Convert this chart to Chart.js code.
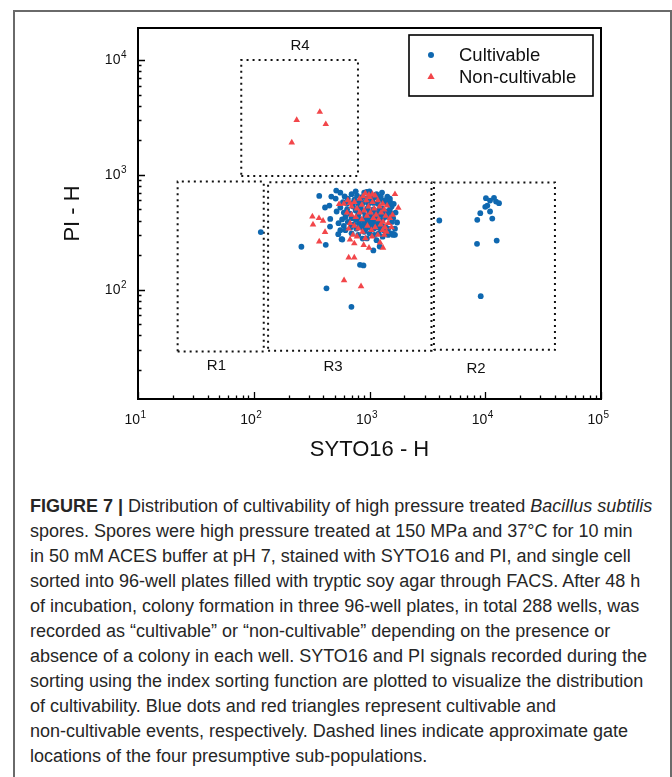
<!DOCTYPE html>
<html>
<head>
<meta charset="utf-8">
<script src="https://cdn.jsdelivr.net/npm/chart.js@4.4.1/dist/chart.umd.min.js"></script>
<style>
  html, body { margin: 0; padding: 0; background: #fff; }
  body { width: 672px; height: 777px; position: relative; overflow: hidden; font-family: "Liberation Sans", Arial, sans-serif; }
  #frame { position: absolute; left: 13px; top: 10px; width: 655px; height: 820px; border: 2px solid #6a6a6a; }
  #wrap { position: absolute; left: 0; top: 0; width: 672px; height: 480px; }
  #caption { position: absolute; left: 30px; top: 494px; font-size: 18px; line-height: 25px; color: #262626; white-space: nowrap; }
  #caption b { font-weight: bold; }
</style>
</head>
<body>
<div id="frame"></div>
<div id="wrap"><canvas id="chart" width="672" height="480"></canvas></div>
<div id="caption">
<b>FIGURE 7 |</b> Distribution of cultivability of high pressure treated <i>Bacillus subtilis</i><br>
spores. Spores were high pressure treated at 150 MPa and 37°C for 10 min<br>
in 50 mM ACES buffer at pH 7, stained with SYTO16 and PI, and single cell<br>
sorted into 96-well plates filled with tryptic soy agar through FACS. After 48 h<br>
of incubation, colony formation in three 96-well plates, in total 288 wells, was<br>
recorded as “cultivable” or “non-cultivable” depending on the presence or<br>
absence of a colony in each well. SYTO16 and PI signals recorded during the<br>
sorting using the index sorting function are plotted to visualize the distribution<br>
of cultivability. Blue dots and red triangles represent cultivable and<br>
non-cultivable events, respectively. Dashed lines indicate approximate gate<br>
locations of the four presumptive sub-populations.
</div>
<script>
// axis ticks (log scales)
const xTickVals = [10, 100, 1000, 10000, 100000];
const yTickVals = [100, 1000, 10000];

// SYTO16 - H / PI - H pairs
const cultivable = [
  [115,318],[258,237],[419,246],[425,103],[698,71],[828,165],[887,163],[1080,220],[574,276],[4010,401],
  [10140,627],[11000,598],[11900,631],[12400,586],[13150,567],[10000,527],[10420,541],[9060,464],
  [11000,480],[8530,406],[11500,417],[8490,251],[12560,268],[9140,88],
  [368,656],[516,730],[468,647],[510,622],[413,520],[450,541],[458,414],[456,355],[537,305],[582,274],
  [946,711],[1730,385],[873,279],[1224,238],[1607,307],[1660,301],[1283,701],[1426,647],[1503,586],[1554,530],
  [560,700],[610,650],[650,620],[700,680],[740,610],[780,660],[820,590],[860,640],[900,700],[950,620],
  [1000,660],[1050,600],[1100,640],[1150,680],[1200,620],[1250,650],[1300,600],[1350,580],[1180,560],[1080,570],
  [980,560],[880,570],[800,560],[720,570],[640,560],[590,580],[1400,610],[1450,560],[1000,720],[760,720],
  [520,480],[560,520],[600,470],[640,500],[680,460],[720,530],[760,490],[800,450],[840,520],[880,480],
  [920,440],[960,510],[1000,470],[1040,430],[1080,500],[1120,460],[1160,420],[1200,490],[1240,450],[1280,510],
  [1320,470],[1360,430],[1400,480],[1450,440],[1500,500],[1550,460],[1600,420],[700,420],[760,410],[840,410],
  [900,400],[980,420],[1050,410],[1130,400],[1220,400],[1300,410],[620,430],[580,410],
  [540,380],[600,360],[650,390],[690,350],[730,370],[770,340],[810,380],[850,350],[890,370],[930,340],
  [970,380],[1010,350],[1050,370],[1090,340],[1130,380],[1170,350],[1210,370],[1250,340],[1290,360],[1330,330],
  [1380,350],[1450,340],[1520,310],[1600,300],[1450,300],[700,310],[800,300],[900,320],[1000,310],[1100,300],
  [1200,310],[1300,290],[950,280],[1150,270],[620,330],[560,330],
  [1620,560],[1680,470],[1560,390],[1660,340],[1500,620]
];
const nonCultivable = [
  [372,3530],[235,3006],[419,2762],[213,1910],
  [603,121],[845,107],[661,191],[739,191],[368,263],[321,434],[325,370],[366,420],[397,398],[413,318],
  [546,556],[1660,679],[1774,516],[1341,301],[1233,258],[1309,232],[891,245],[990,232],[679,274],[739,253],
  [990,670],[1060,680],[679,568],
  [600,560],[650,600],[700,530],[740,580],[780,510],[820,620],[860,550],[900,490],[940,600],[980,530],
  [1020,470],[1060,580],[1100,510],[1140,450],[1180,600],[1220,530],[1260,470],[1300,560],[1340,500],[1380,440],
  [1420,540],[880,650],[1000,640],[1120,660],[920,690],[640,470],[700,450],[760,430],[820,470],[860,410],
  [950,440],[1080,420],[1200,410],[1310,390],[680,380],[740,360],[800,340],[870,320],[960,360],[1040,330],
  [1120,350],[1250,370],[1360,350],[1450,380],[1500,420],[1580,450],[660,340],[720,300],[780,290],[920,280],
  [1050,290],[1180,300],[1400,320],[1550,350],[1300,330]
];

// gate rectangles: [xMin, xMax, yMin, yMax]
const gateNames = ['R1', 'R3', 'R2', 'R4'];
const gateBoxes = [
  [22, 122, 29, 875],
  [133, 3430, 29.5, 865],
  [3600, 40000, 30, 860],
  [78, 795, 980, 10000]
];
// where each gate name sits (data coords)
const gateLabelPos = [[47.6, 21.8], [484, 21.4], [8320, 20.6], [251, 13250]];

const BLUE = '#0f68b0';
const RED = '#f2464a';
const FONT = '"Liberation Sans", Arial, sans-serif';

const gateSets = gateBoxes.map((b, i) => ({
  label: gateNames[i],
  data: [{x:b[0],y:b[2]},{x:b[1],y:b[2]},{x:b[1],y:b[3]},{x:b[0],y:b[3]},{x:b[0],y:b[2]}],
  showLine: true,
  borderColor: '#111',
  borderWidth: 2,
  borderDash: [2, 4],
  pointRadius: 0,
  order: 3
}));

// "10" with a raised exponent
function drawPow(ctx, v, cx, cy, align) {
  const exp = String(Math.round(Math.log10(v)));
  ctx.font = '14px ' + FONT;
  const wb = ctx.measureText('10').width;
  ctx.font = '10px ' + FONT;
  const we = ctx.measureText(exp).width;
  let left = align === 'right' ? cx - wb - we : cx - wb + 2;
  ctx.textAlign = 'left';
  ctx.textBaseline = 'middle';
  ctx.font = '14px ' + FONT;
  ctx.fillText('10', left, cy);
  ctx.font = '10px ' + FONT;
  ctx.fillText(exp, left + wb + 0.5, cy - 5);
}

const overlay = {
  id: 'overlay',
  afterDraw(chart) {
    const { ctx, chartArea: a, scales: { x, y } } = chart;
    ctx.save();
    ctx.strokeStyle = '#000';
    ctx.lineWidth = 1.3;
    ctx.beginPath();
    for (let d = 1; d <= 5; d++) {
      for (let m = 1; m <= 9; m++) {
        const v = m * Math.pow(10, d);
        const len = m === 1 ? 7 : 3.5;
        if (v >= x.min && v <= x.max) {
          const px = Math.round(x.getPixelForValue(v)) + 0.5;
          ctx.moveTo(px, a.bottom); ctx.lineTo(px, a.bottom - len);
        }
        if (v >= y.min && v <= y.max) {
          const py = Math.round(y.getPixelForValue(v)) + 0.5;
          ctx.moveTo(a.left, py); ctx.lineTo(a.left + len, py);
        }
      }
    }
    ctx.stroke();
    ctx.lineWidth = 2;
    ctx.strokeRect(a.left, a.top, a.right - a.left, a.bottom - a.top);

    // tick labels
    ctx.fillStyle = '#111';
    xTickVals.forEach(v => drawPow(ctx, v, x.getPixelForValue(v), a.bottom + 21, 'center'));
    yTickVals.forEach(v => drawPow(ctx, v, a.left - 12, y.getPixelForValue(v), 'right'));

    // gate names
    ctx.font = '15px ' + FONT;
    ctx.textAlign = 'center';
    ctx.textBaseline = 'middle';
    gateLabelPos.forEach((p, i) => {
      ctx.fillText(gateNames[i], x.getPixelForValue(p[0]), y.getPixelForValue(p[1]));
    });

    // legend
    const lx = 409, ly = 35, lw = 184, lh = 61;
    ctx.fillStyle = '#fff';
    ctx.fillRect(lx, ly, lw, lh);
    ctx.lineWidth = 1.6;
    ctx.strokeRect(lx, ly, lw, lh);
    const items = [chart.data.datasets[0], chart.data.datasets[1]];
    items.forEach((ds, i) => {
      const cy = 55 + i * 22;
      ctx.fillStyle = ds.backgroundColor;
      if (ds.pointStyle === 'triangle') {
        const r = 4.2;
        ctx.beginPath();
        ctx.moveTo(431, cy - r);
        ctx.lineTo(431 + r * 0.866, cy + r / 2);
        ctx.lineTo(431 - r * 0.866, cy + r / 2);
        ctx.closePath();
        ctx.fill();
      } else {
        ctx.beginPath();
        ctx.arc(431, cy, 3, 0, Math.PI * 2);
        ctx.fill();
      }
      ctx.fillStyle = '#111';
      ctx.font = '18.5px ' + FONT;
      ctx.textAlign = 'left';
      ctx.fillText(ds.label, 459, cy + 1);
    });
    ctx.restore();
  }
};

new Chart(document.getElementById('chart'), {
  type: 'scatter',
  data: {
    datasets: [
      {
        label: 'Cultivable',
        data: cultivable.map(p => ({ x: p[0], y: p[1] })),
        backgroundColor: BLUE,
        borderWidth: 0,
        pointRadius: 2.9,
        pointStyle: 'circle',
        order: 2
      },
      {
        label: 'Non-cultivable',
        data: nonCultivable.map(p => ({ x: p[0], y: p[1] })),
        backgroundColor: RED,
        borderWidth: 0,
        pointRadius: 3.8,
        pointStyle: 'triangle',
        order: 1
      },
      ...gateSets
    ]
  },
  options: {
    responsive: false,
    animation: false,
    layout: { padding: { top: 28, right: 71, left: 0, bottom: 0 } },
    plugins: { legend: { display: false }, tooltip: { enabled: false } },
    scales: {
      x: {
        type: 'logarithmic',
        position: 'bottom',
        min: 10,
        max: 100000,
        grid: { display: false, drawTicks: false },
        border: { display: false },
        afterBuildTicks: s => { s.ticks = xTickVals.map(v => ({ value: v })); },
        afterFit: s => { s.height = 81; },
        ticks: { display: false },
        title: {
          display: true,
          text: 'SYTO16 - H',
          color: '#111',
          font: { family: FONT, size: 22 },
          padding: { top: 0, bottom: 17 }
        }
      },
      y: {
        type: 'logarithmic',
        position: 'left',
        min: 11.2,
        max: 19000,
        grid: { display: false, drawTicks: false },
        border: { display: false },
        afterBuildTicks: s => { s.ticks = yTickVals.map(v => ({ value: v })); },
        afterFit: s => { s.width = 138; },
        ticks: { display: false },
        title: {
          display: true,
          text: 'PI - H',
          color: '#111',
          font: { family: FONT, size: 22 },
          padding: { top: 60, bottom: 0 }
        }
      }
    }
  },
  plugins: [overlay]
});
</script>
</body>
</html>
